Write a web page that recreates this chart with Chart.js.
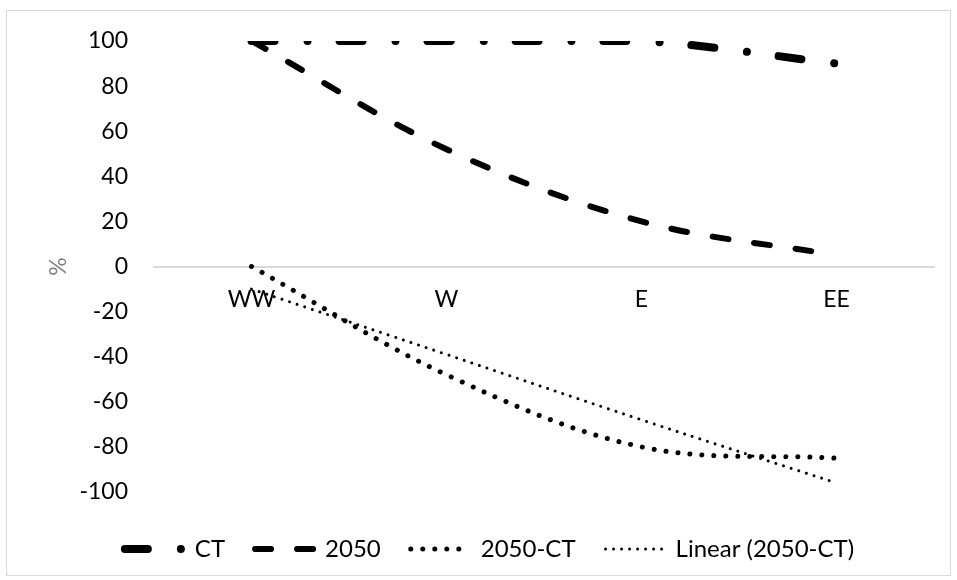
<!DOCTYPE html>
<html>
<head>
<meta charset="utf-8">
<script src="https://cdn.jsdelivr.net/npm/chart.js@4.4.1/dist/chart.umd.min.js"></script>
<style>
    html, body { margin: 0; padding: 0; background: #ffffff; }
    #wrap { position: relative; width: 957px; height: 580px; }
    #frame {
        position: absolute; left: 6px; top: 10px; width: 943px; height: 564px;
        border: 1px solid #d9d9d9; pointer-events: none;
    }
</style>
</head>
<body>
<div id="wrap">
    <canvas id="chart" width="957" height="580"></canvas>
    <div id="frame"></div>
</div>
<script>
// Categories and series
const categories = ['WW', 'W', 'E', 'EE'];
const ctValues = [100, 100, 100, 90];
const y2050Values = [100, 52, 20, 5];
const diffValues = [0, -48, -80, -85];
const trendValues = [-10, -39, -68, -96];
const yTicks = [-100, -80, -60, -40, -20, 0, 20, 40, 60, 80, 100];

const FONT = "Lato, 'Open Sans', sans-serif";

function series(label, data, width, dash) {
    return {
        label,
        data,
        borderColor: '#000000',
        backgroundColor: '#000000',
        borderWidth: width,
        borderDash: dash,
        borderCapStyle: 'round',
        borderJoinStyle: 'round',
        tension: 0.35,
        pointRadius: 0,
        pointHoverRadius: 0,
        fill: false
    };
}

/**
 * Legend items built from the dataset line style
 * (the point-style legend otherwise drops the dash pattern)
 */
function legendLabels(chart) {
    const items = Chart.defaults.plugins.legend.labels.generateLabels(chart);
    items.forEach(item => {
        const ds = chart.data.datasets[item.datasetIndex];
        item.lineDash = ds.borderDash;
        item.lineCap = ds.borderCapStyle;
        item.lineWidth = ds.borderWidth;
        item.strokeStyle = ds.borderColor;
        item.rotation = 180;   // draw the sample left to right
    });
    return items;
}

new Chart(document.getElementById('chart'), {
    type: 'line',
    data: {
        labels: categories,
        datasets: [
            series('CT', ctValues, 8, [23, 33, 0.01, 32]),
            series('2050', y2050Values, 6, [16, 26]),
            series('2050-CT', diffValues, 5, [0.01, 12]),
            series('Linear (2050-CT)', trendValues, 3, [0.01, 8])
        ]
    },
    options: {
        responsive: false,
        animation: false,
        layout: {
            padding: { left: 45, right: 23, top: 41, bottom: 9 }
        },
        plugins: {
            tooltip: { enabled: false },
            legend: {
                position: 'bottom',
                labels: {
                    usePointStyle: true,
                    pointStyle: 'line',
                    pointStyleWidth: 58,
                    color: '#000000',
                    padding: 30,
                    font: { family: FONT, size: 24 },
                    generateLabels: legendLabels
                }
            }
        },
        scales: {
            x: {
                type: 'category',
                position: { y: 0 },
                offset: true,
                grid: { display: false, drawTicks: false },
                border: { display: true, color: '#d9d9d9', width: 2 },
                ticks: {
                    color: '#000000',
                    padding: 19,
                    maxRotation: 0,
                    font: { family: FONT, size: 23 }
                }
            },
            // empty spacer between plot and legend
            spacer: {
                type: 'category',
                axis: 'x',
                position: 'bottom',
                labels: categories,
                grid: { display: false, drawTicks: false },
                border: { display: false },
                ticks: { display: false },
                afterFit: (scale) => { scale.height = 15; }
            },
            y: {
                min: -100,
                max: 100,
                afterFit: (scale) => { scale.width = 109; },
                afterBuildTicks: (scale) => {
                    scale.ticks = yTicks.map(v => ({ value: v }));
                },
                grid: { display: false, drawTicks: false },
                border: { display: false },
                ticks: {
                    color: '#000000',
                    padding: 26,
                    font: { family: FONT, size: 23 }
                },
                title: {
                    display: true,
                    text: '%',
                    color: '#7f7f7f',
                    padding: 0,
                    font: { family: FONT, size: 23 }
                }
            }
        }
    }
});
</script>
</body>
</html>
